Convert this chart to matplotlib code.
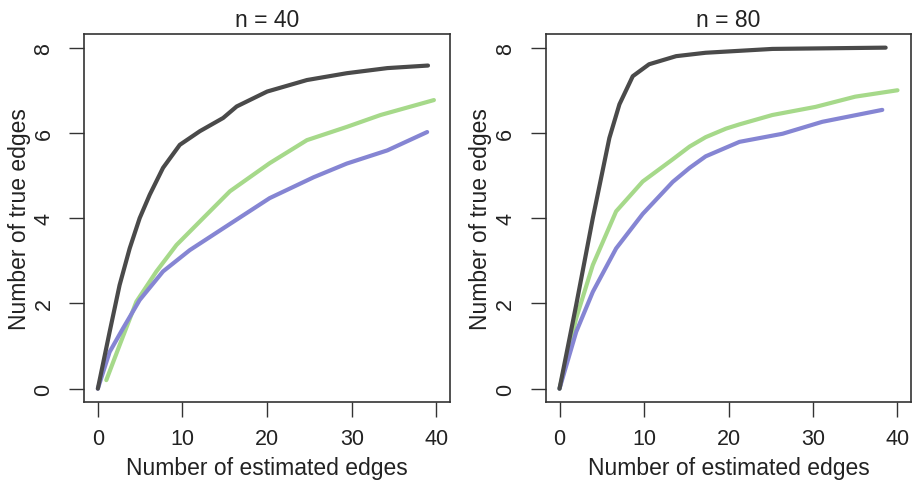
import matplotlib
matplotlib.use("Agg")
import matplotlib.pyplot as plt

plt.rcParams['font.family'] = ['Liberation Sans', 'DejaVu Sans']

# ---- data: n = 40 ----
n40_black_x = [0, 1.39, 2.57, 3.76, 4.94, 6.13, 7.7, 9.68, 12.05, 14.8, 16.4, 20, 24.7, 29.4, 34.2, 39]
n40_black_y = [0, 1.33, 2.43, 3.29, 4.0, 4.55, 5.18, 5.72, 6.04, 6.35, 6.62, 6.97, 7.24, 7.4, 7.52, 7.58]
n40_green_x = [1.0, 2.57, 4.55, 6.92, 9.29, 12.44, 15.6, 20.3, 24.7, 29.4, 33.4, 39.7]
n40_green_y = [0.2, 1.02, 2.04, 2.75, 3.37, 4.0, 4.63, 5.29, 5.83, 6.14, 6.42, 6.77]
n40_blue_x = [0, 1.39, 2.96, 4.94, 7.7, 10.86, 14.8, 20.3, 25.5, 29.4, 34.2, 38.9]
n40_blue_y = [0, 0.86, 1.41, 2.08, 2.75, 3.25, 3.76, 4.47, 4.96, 5.28, 5.59, 6.02]

# ---- data: n = 80 ----
n80_black_x = [0, 1.97, 3.94, 5.9, 7.09, 8.67, 10.6, 13.8, 17.3, 25.2, 38.6]
n80_black_y = [0, 1.96, 4.0, 5.88, 6.67, 7.33, 7.61, 7.8, 7.88, 7.97, 8.0]
n80_green_x = [0, 1.97, 3.94, 6.7, 9.85, 13.4, 15.4, 17.3, 19.7, 21.3, 25.2, 30.3, 35, 40]
n80_green_y = [0, 1.65, 2.9, 4.16, 4.86, 5.38, 5.68, 5.9, 6.1, 6.2, 6.42, 6.61, 6.85, 7.0]
n80_blue_x = [0, 1.97, 3.94, 6.7, 9.85, 13.4, 15.4, 17.3, 21.3, 26.4, 31.1, 38.2]
n80_blue_y = [0, 1.33, 2.27, 3.29, 4.1, 4.85, 5.18, 5.45, 5.79, 5.98, 6.26, 6.54]

titles = ["n = 40", "n = 80"]
xticks = [0, 10, 20, 30, 40]
yticks = [0, 2, 4, 6, 8]

BLACK = "#4a4a4a"
GREEN = "#a6d98a"
BLUE = "#8585d3"

panels = [
    [(n40_green_x, n40_green_y, GREEN), (n40_blue_x, n40_blue_y, BLUE), (n40_black_x, n40_black_y, BLACK)],
    [(n80_green_x, n80_green_y, GREEN), (n80_blue_x, n80_blue_y, BLUE), (n80_black_x, n80_black_y, BLACK)],
]

fig = plt.figure(figsize=(9.17, 4.85), dpi=100)
W, H = 917, 485
boxes = [(84.3, 35, 450, 403.3), (546, 35, 911, 403.3)]

for (l, t, r, b), series, title in zip(boxes, panels, titles):
    ax = fig.add_axes([l / W, 1 - b / H, (r - l) / W, (b - t) / H])
    for xs, ys, c in series:
        ax.plot(xs, ys, color=c, lw=3.0, solid_capstyle='round', solid_joinstyle='round')
    ax.set_xlim(-1.6, 41.6)
    ax.set_ylim(-0.32, 8.32)
    ax.set_xticks(xticks)
    ax.set_yticks(yticks)
    ax.set_yticklabels([str(v) for v in yticks], rotation=90, va='center')
    ax.tick_params(direction='out', length=10.5, width=1.0, color='#333333',
                   labelsize=15.5, labelcolor='#222222')
    ax.tick_params(axis='x', pad=8)
    ax.tick_params(axis='y', pad=11)
    for s in ax.spines.values():
        s.set_linewidth(1.2)
        s.set_color('#333333')
    ax.set_title(title, fontsize=16.5, color='#222222', pad=6)
    ax.set_xlabel("Number of estimated edges", fontsize=16.5, color='#222222', labelpad=5)
    ax.set_ylabel("Number of true edges", fontsize=16.5, color='#222222', labelpad=2)

fig.savefig("out.png", dpi=100, facecolor='white')
